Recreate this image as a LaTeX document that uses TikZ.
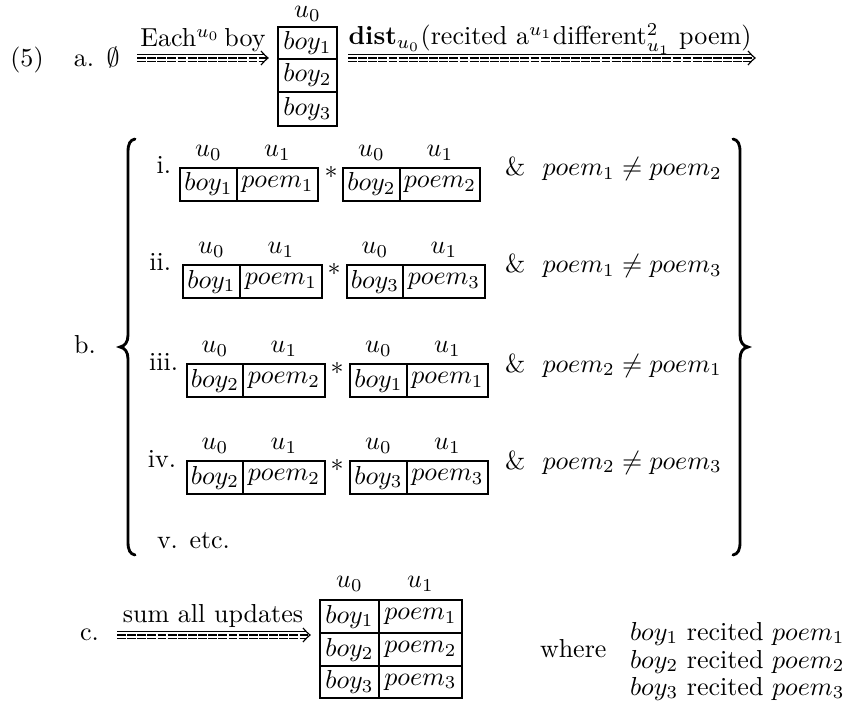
\documentclass[tikz,border=0pt]{standalone}
\usetikzlibrary{calc}

% one table cell: name, x1, y1, x2, y2, content (coordinates in px units)
\newcommand{\cellnode}[6]{%
  \node[cellbox, minimum width={(#4-#2)*0.3846pt}, minimum height={(#5-#3)*0.3846pt}]
    (#1) at ({(#2+#4)/2},{(#3+#5)/2}) {#6};}

% a two-column assignment: prefix, x-left, x-mid, x-right, top, bottom, boy index, poem index
\newcommand{\tabpair}[8]{%
  \cellnode{#1a}{#2}{#5}{#3}{#6}{$boy_{#7}$}
  \cellnode{#1b}{#3}{#5}{#4}{#6}{$poem_{#8}$}
  \node[lbl, anchor=base] (#1u) at ($(#1a.north)+(0,-10)$) {$u_0$};
  \node[lbl, anchor=base] (#1v) at ($(#1b.north)+(0,-10)$) {$u_1$};}

% triple arrow between two coordinates
\newcommand{\tripleto}[2]{%
  \draw[arrline] ($(#1)+(0,-3.6)$) -- ($(#2)+(-4.5,-3.6)$);
  \draw[arrline, dashpat] (#1) -- ($(#2)+(-1,0)$);
  \draw[arrline, dashpat] ($(#1)+(0,3.6)$) -- ($(#2)+(-4.5,3.6)$);
  \draw[arrline] ($(#2)+(-7,-7)$) .. controls ($(#2)+(-3,-2.5)$) .. (#2)
                 .. controls ($(#2)+(-3,2.5)$) .. ($(#2)+(-7,7)$);}

\begin{document}
\begin{tikzpicture}[x=0.3846pt, y=-0.3846pt,
  lbl/.style={inner sep=0, outer sep=0},
  cellbox/.style={draw, line width=1.05pt, inner sep=0},
  arrline/.style={line width=0.45pt},
  dashpat/.style={dash pattern=on 3.4pt off 0.5pt},
  bracepath/.style={line width=1.1pt, line cap=round}]
\useasboundingbox (0,0) rectangle (843,700);

% ---------- (5) a. ----------
\node[lbl, anchor=base] (ex) at (27,67) {(5)};
\node[lbl, anchor=base] (la) at (84,67) {a.};
\node[lbl, anchor=base] (empty) at (113,67) {$\emptyset$};

\coordinate (a1s) at (137,58);
\coordinate (a1e) at (268,58);
\tripleto{a1s}{a1e}
\node[lbl, anchor=base] (each) at (203,47) {Each$^{u_0}$\,boy};

\cellnode{c1}{278}{27}{337}{59}{$boy_1$}
\cellnode{c2}{278}{59}{337}{92}{$boy_2$}
\cellnode{c3}{278}{92}{337}{126}{$boy_3$}
\node[lbl, anchor=base] (cu) at ($(c1.north)+(0,-8)$) {$u_0$};

\coordinate (a2s) at (348,58);
\coordinate (a2e) at (755,58);
\tripleto{a2s}{a2e}
\node[lbl, anchor=base] (dist) at (550,45)
  {\textbf{dist}$_{u_0}$(recited a$^{u_1}$different$^{2}_{u_1}$ poem)};

% ---------- b. ----------
\node[lbl, anchor=base] (lb) at (85,353) {b.};

% curly braces around the list of updates
\draw[bracepath] (135,139) .. controls (130,140) and (128,144) .. (128,152)
  -- (128,335) .. controls (128,342) and (125,346) .. (120,347)
  .. controls (125,348) and (128,352) .. (128,359)
  -- (128,542) .. controls (128,550) and (130,554) .. (135,555);
\draw[bracepath] (733,139) .. controls (738,140) and (740,144) .. (740,152)
  -- (740,335) .. controls (740,342) and (743,346) .. (748,347)
  .. controls (743,348) and (740,352) .. (740,359)
  -- (740,542) .. controls (740,550) and (738,554) .. (733,555);

% row i
\node[lbl, anchor=base east] (ri) at (171,174) {i.};
\tabpair{ria}{180}{237}{318}{168}{201}{1}{1}
\node[lbl] (ris) at (331,172) {$*$};
\tabpair{rib}{343}{400}{480}{168}{201}{2}{2}
\node[lbl, anchor=base west] (rit) at (505,176) {\& \ $poem_1 \neq poem_2$};

% row ii
\node[lbl, anchor=base east] (rii) at (171,271) {ii.};
\tabpair{riia}{183}{240}{322}{265}{298}{1}{1}
\node[lbl] (riis) at (334,269) {$*$};
\tabpair{riib}{347}{403}{485}{265}{298}{3}{3}
\node[lbl, anchor=base west] (riit) at (505,273) {\& \ $poem_1 \neq poem_3$};

% row iii
\node[lbl, anchor=base east] (riii) at (178,370) {iii.};
\tabpair{riiia}{187}{243}{325}{364}{397}{2}{2}
\node[lbl] (riiis) at (337,368) {$*$};
\tabpair{riiib}{350}{407}{488}{364}{397}{1}{1}
\node[lbl, anchor=base west] (riiit) at (505,372) {\& \ $poem_2 \neq poem_1$};

% row iv
\node[lbl, anchor=base east] (riv) at (176,467) {iv.};
\tabpair{riva}{187}{243}{325}{461}{494}{2}{2}
\node[lbl] (rivs) at (337,465) {$*$};
\tabpair{rivb}{350}{407}{488}{461}{494}{3}{3}
\node[lbl, anchor=base west] (rivt) at (505,469) {\& \ $poem_2 \neq poem_3$};

% row v
\node[lbl, anchor=base west] (rv) at (157,548) {v. etc.};

% ---------- c. ----------
\node[lbl, anchor=base west] (lc) at (80,640) {c.};
\coordinate (a3s) at (117,635);
\coordinate (a3e) at (310,635);
\tripleto{a3s}{a3e}
\node[lbl, anchor=base] (sum) at (213,622) {sum all updates};

\cellnode{t1a}{320}{600}{379}{633}{$boy_1$}
\cellnode{t1b}{379}{600}{462}{633}{$poem_1$}
\cellnode{t2a}{320}{633}{379}{666}{$boy_2$}
\cellnode{t2b}{379}{633}{462}{666}{$poem_2$}
\cellnode{t3a}{320}{666}{379}{698}{$boy_3$}
\cellnode{t3b}{379}{666}{462}{698}{$poem_3$}
\node[lbl, anchor=base] (tu) at ($(t1a.north)+(0,-11)$) {$u_0$};
\node[lbl, anchor=base] (tv) at ($(t1b.north)+(0,-11)$) {$u_1$};

\node[lbl, anchor=base west] (where) at (540,657) {where};
\node[lbl, anchor=base west] (w1) at (630,640) {$boy_1$ recited $poem_1$};
\node[lbl, anchor=base west] (w2) at (630,668) {$boy_2$ recited $poem_2$};
\node[lbl, anchor=base west] (w3) at (630,695) {$boy_3$ recited $poem_3$};
\end{tikzpicture}
\end{document}
